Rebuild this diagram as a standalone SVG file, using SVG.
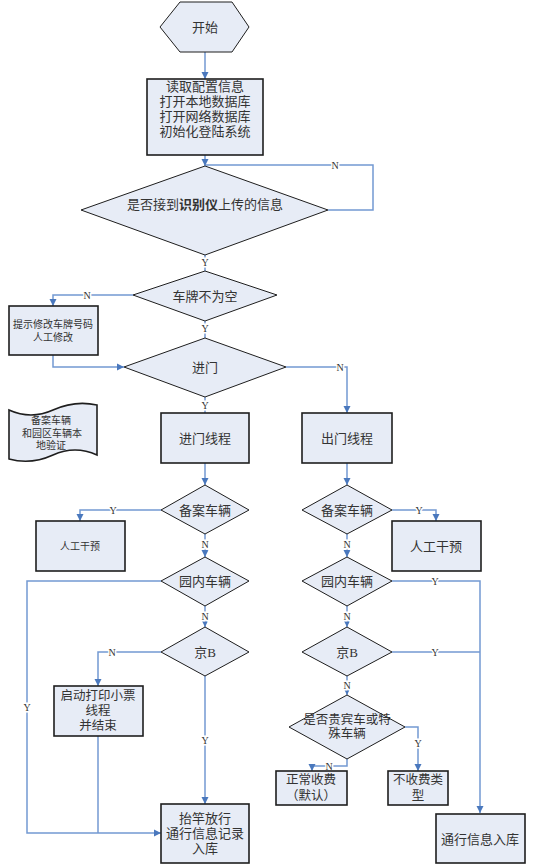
<svg xmlns="http://www.w3.org/2000/svg" width="533" height="867" viewBox="0 0 533 867">
<defs>
<style>
.n{fill:#e7ecf6;stroke:#1e1e1e;stroke-width:1}
.b{fill:#e7ecf6;stroke:#1e1e1e;stroke-width:1.6}
.t{font-family:"Liberation Serif","Noto Sans CJK SC",serif;fill:#333;text-anchor:middle;dominant-baseline:central}
.c{fill:none;stroke:#7399d2;stroke-width:1.5}
.l{font-family:"Liberation Serif",serif;font-size:10px;fill:#333;text-anchor:middle;dominant-baseline:central;stroke:#fff;stroke-width:3;paint-order:stroke}
</style>
<marker id="a" markerUnits="userSpaceOnUse" markerWidth="8" markerHeight="8" refX="7" refY="4" orient="auto">
<path d="M0,0.5 L7,4 L0,7.5 z" fill="#4a78bd"/>
</marker>
</defs>
<rect width="533" height="867" fill="#fff"/>
<g id="connectors">
<path class="c" d="M205,52 V79" marker-end="url(#a)"/>
<path class="c" d="M205,155 V166" marker-end="url(#a)"/>
<path class="c" d="M328,210 H373 V165 H206"/>
<path class="c" d="M205,255 V271"/>
<path class="c" d="M133,295 H53 V306" marker-end="url(#a)"/>
<path class="c" d="M205,321 V338"/>
<path class="c" d="M53,355 V367 H124" marker-end="url(#a)"/>
<path class="c" d="M205,397 V413"/>
<path class="c" d="M286,367 H347 V413" marker-end="url(#a)"/>
<path class="c" d="M205,463 V485" marker-end="url(#a)"/>
<path class="c" d="M347,463 V485" marker-end="url(#a)"/>
<path class="c" d="M161,510 H80 V521" marker-end="url(#a)"/>
<path class="c" d="M205,534 V557" marker-end="url(#a)"/>
<path class="c" d="M161,581 H27 V833 H161" marker-end="url(#a)"/>
<path class="c" d="M205,606 V627" marker-end="url(#a)"/>
<path class="c" d="M161,652 H98 V686" marker-end="url(#a)"/>
<path class="c" d="M205,676 V804" marker-end="url(#a)"/>
<path class="c" d="M98,736 V833"/>
<path class="c" d="M392,510 H436 V521" marker-end="url(#a)"/>
<path class="c" d="M347,534 V557" marker-end="url(#a)"/>
<path class="c" d="M392,581 H480 V813" marker-end="url(#a)"/>
<path class="c" d="M347,606 V627" marker-end="url(#a)"/>
<path class="c" d="M392,652 H480"/>
<path class="c" d="M347,676 V695" marker-end="url(#a)"/>
<path class="c" d="M405,727 H418 V771" marker-end="url(#a)"/>
<path class="c" d="M347,759 V766 H312 V771" marker-end="url(#a)"/>
<text class="l" x="335" y="165">N</text>
<text class="l" x="205" y="262">Y</text>
<text class="l" x="87" y="295">N</text>
<text class="l" x="205" y="328">Y</text>
<text class="l" x="205" y="405">Y</text>
<text class="l" x="340" y="367">N</text>
<text class="l" x="113" y="510">Y</text>
<text class="l" x="205" y="544">N</text>
<text class="l" x="27" y="707">Y</text>
<text class="l" x="205" y="616">N</text>
<text class="l" x="112" y="652">N</text>
<text class="l" x="205" y="740">Y</text>
<text class="l" x="419" y="510">Y</text>
<text class="l" x="347" y="544">N</text>
<text class="l" x="435" y="581">Y</text>
<text class="l" x="347" y="616">N</text>
<text class="l" x="435" y="652">Y</text>
<text class="l" x="347" y="685">N</text>
<text class="l" x="418" y="743">Y</text>
<text class="l" x="329" y="766">N</text>
</g>
<g id="start">
<polygon class="n" points="160,27 180,2 232,2 249,27 232,52 180,52"/>
<text class="t" x="205" y="27" font-size="13">开始</text>
</g>
<g id="init">
<rect class="b" x="147" y="79" width="116" height="76"/>
<text class="t" x="205" y="86" font-size="13">读取配置信息</text>
<text class="t" x="205" y="101" font-size="13">打开本地数据库</text>
<text class="t" x="205" y="116" font-size="13">打开网络数据库</text>
<text class="t" x="205" y="131" font-size="13">初始化登陆系统</text>
</g>
<g id="recv">
<polygon class="n" points="81,210 205,166 328,210 205,255"/>
<text class="t" x="205" y="204" font-size="13">是否接到<tspan font-weight="bold">识别仪</tspan>上传的信息</text>
</g>
<g id="plate">
<polygon class="n" points="133,295 205,271 277,295 205,321"/>
<text class="t" x="205" y="296" font-size="13">车牌不为空</text>
</g>
<g id="fix">
<rect class="b" x="9" y="306" width="89" height="49"/>
<text class="t" x="53" y="324" font-size="10">提示修改车牌号码</text>
<text class="t" x="53" y="337" font-size="10">人工修改</text>
</g>
<g id="gate">
<polygon class="n" points="124,367 205,338 286,367 205,397"/>
<text class="t" x="205" y="367" font-size="13">进门</text>
</g>
<g id="note">
<path class="b" d="M9,410 Q31,420 53,410 T97,405 L97,455 Q75,445 53,455 T9,459 Z"/>
<text class="t" x="51" y="420" font-size="10">备案车辆</text>
<text class="t" x="52" y="433" font-size="10">和园区车辆本</text>
<text class="t" x="51" y="445" font-size="10">地验证</text>
</g>
<g id="in-thread">
<rect class="b" x="161" y="413" width="88" height="50"/>
<text class="t" x="205" y="438" font-size="13">进门线程</text>
</g>
<g id="out-thread">
<rect class="b" x="302" y="413" width="90" height="50"/>
<text class="t" x="347" y="438" font-size="13">出门线程</text>
</g>
<g id="in-reg">
<polygon class="n" points="161,510 205,485 249,510 205,534"/>
<text class="t" x="205" y="510" font-size="13">备案车辆</text>
</g>
<g id="in-manual">
<rect class="b" x="36" y="521" width="89" height="50"/>
<text class="t" x="80" y="546" font-size="10">人工干预</text>
</g>
<g id="in-park">
<polygon class="n" points="161,581 205,557 249,581 205,606"/>
<text class="t" x="205" y="581" font-size="13">园内车辆</text>
</g>
<g id="in-jb">
<polygon class="n" points="161,652 205,627 249,652 205,676"/>
<text class="t" x="205" y="652" font-size="13">京B</text>
</g>
<g id="print">
<rect class="b" x="54" y="686" width="89" height="50"/>
<text class="t" x="98" y="696" font-size="12.5">启动打印小票</text>
<text class="t" x="98" y="711" font-size="12.5">线程</text>
<text class="t" x="98" y="726" font-size="12.5">并结束</text>
</g>
<g id="pass">
<rect class="b" x="161" y="804" width="88" height="59"/>
<text class="t" x="205" y="818" font-size="13">抬竿放行</text>
<text class="t" x="205" y="833" font-size="13">通行信息记录</text>
<text class="t" x="205" y="848" font-size="13">入库</text>
</g>
<g id="out-reg">
<polygon class="n" points="302,510 347,485 392,510 347,534"/>
<text class="t" x="347" y="510" font-size="13">备案车辆</text>
</g>
<g id="out-manual">
<rect class="b" x="392" y="521" width="89" height="50"/>
<text class="t" x="436" y="546" font-size="13">人工干预</text>
</g>
<g id="out-park">
<polygon class="n" points="302,581 347,557 392,581 347,606"/>
<text class="t" x="347" y="581" font-size="13">园内车辆</text>
</g>
<g id="out-jb">
<polygon class="n" points="302,652 347,627 392,652 347,676"/>
<text class="t" x="347" y="652" font-size="13">京B</text>
</g>
<g id="vip">
<polygon class="n" points="289,727 347,695 405,727 347,759"/>
<text class="t" x="347" y="720" font-size="12.5">是否贵宾车或特</text>
<text class="t" x="347" y="734" font-size="12.5">殊车辆</text>
</g>
<g id="normal-fee">
<rect class="b" x="276" y="771" width="71" height="34"/>
<text class="t" x="311" y="780" font-size="12.5">正常收费</text>
<text class="t" x="311" y="796" font-size="12.5">（默认）</text>
</g>
<g id="free">
<rect class="b" x="388" y="771" width="60" height="34"/>
<text class="t" x="418" y="780" font-size="12.5">不收费类</text>
<text class="t" x="418" y="796" font-size="12.5">型</text>
</g>
<g id="out-pass">
<rect class="b" x="436" y="814" width="89" height="49"/>
<text class="t" x="480" y="839" font-size="13">通行信息入库</text>
</g>
</svg>
